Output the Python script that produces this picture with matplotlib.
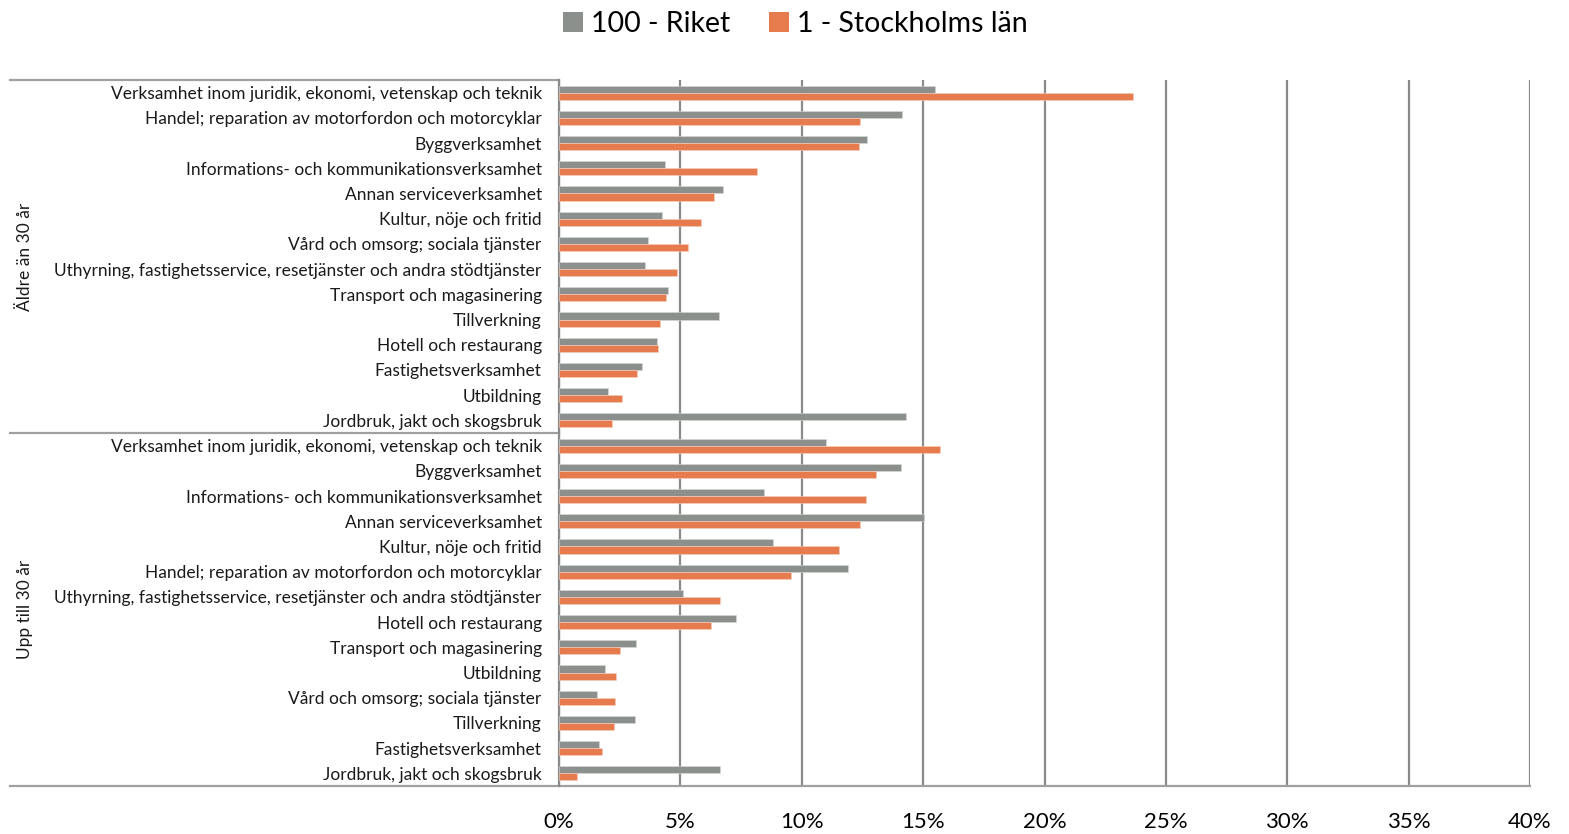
import matplotlib
matplotlib.use("Agg")
import matplotlib.pyplot as plt
from matplotlib.patches import Patch
import numpy as np

plt.rcParams["font.family"] = ["Lato", "DejaVu Sans"]

GROUPS = ["Äldre än 30 år", "Upp till 30 år"]

older_labels = [
    "Verksamhet inom juridik, ekonomi, vetenskap och teknik",
    "Handel; reparation av motorfordon och motorcyklar",
    "Byggverksamhet",
    "Informations- och kommunikationsverksamhet",
    "Annan serviceverksamhet",
    "Kultur, nöje och fritid",
    "Vård och omsorg; sociala tjänster",
    "Uthyrning, fastighetsservice, resetjänster och andra stödtjänster",
    "Transport och magasinering",
    "Tillverkning",
    "Hotell och restaurang",
    "Fastighetsverksamhet",
    "Utbildning",
    "Jordbruk, jakt och skogsbruk",
]
older_riket = [15.47, 14.11, 12.69, 4.36, 6.77, 4.23, 3.68, 3.56, 4.47, 6.61, 4.02, 3.40, 2.03, 14.29]
older_sthlm = [23.64, 12.41, 12.37, 8.15, 6.39, 5.87, 5.30, 4.86, 4.41, 4.17, 4.08, 3.21, 2.60, 2.20]

young_labels = [
    "Verksamhet inom juridik, ekonomi, vetenskap och teknik",
    "Byggverksamhet",
    "Informations- och kommunikationsverksamhet",
    "Annan serviceverksamhet",
    "Kultur, nöje och fritid",
    "Handel; reparation av motorfordon och motorcyklar",
    "Uthyrning, fastighetsservice, resetjänster och andra stödtjänster",
    "Hotell och restaurang",
    "Transport och magasinering",
    "Utbildning",
    "Vård och omsorg; sociala tjänster",
    "Tillverkning",
    "Fastighetsverksamhet",
    "Jordbruk, jakt och skogsbruk",
]
young_riket = [11.00, 14.07, 8.43, 15.05, 8.82, 11.89, 5.09, 7.31, 3.17, 1.89, 1.58, 3.14, 1.66, 6.64]
young_sthlm = [15.69, 13.07, 12.63, 12.41, 11.54, 9.57, 6.64, 6.28, 2.51, 2.33, 2.29, 2.28, 1.79, 0.73]

SERIES = ["100 - Riket", "1 - Stockholms län"]
X_TICKS = [0, 5, 10, 15, 20, 25, 30, 35, 40]

GRAY = "#8C908D"
ORANGE = "#E67C4E"
LINE = "#8A8A8A"

labels = older_labels + young_labels
riket = np.array(older_riket + young_riket)
sthlm = np.array(older_sthlm + young_sthlm)
n = len(labels)
y = np.arange(n)
h = 0.28

fig = plt.figure(figsize=(15.69, 8.34), dpi=100)
ax = fig.add_axes([559 / 1569, 1 - 786 / 834, (1530 - 559) / 1569, (786 - 80) / 834])

ax.barh(y - h / 2, riket, height=h, color=GRAY, edgecolor="#D8DAD8", linewidth=0.4, zorder=3)
ax.barh(y + h / 2, sthlm, height=h, color=ORANGE, edgecolor="#F6D0C0", linewidth=0.4, zorder=3)

ax.set_xlim(0, 40)
ax.set_ylim(n - 0.5, -0.5)
ax.set_xticks(X_TICKS)
ax.set_xticklabels([f"{t}%" for t in X_TICKS], fontsize=16)
ax.tick_params(axis="x", length=0, pad=19)
ax.set_yticks(y)
ax.set_yticklabels(labels, fontsize=12.5, color="#1a1a1a")
ax.tick_params(axis="y", length=0, pad=12.5)

ax.grid(axis="x", color=LINE, linewidth=1.6, zorder=0)
for side in ("top", "right", "bottom"):
    ax.spines[side].set_visible(False)
ax.spines["left"].set_color(LINE)
ax.spines["left"].set_linewidth(1.6)

# separators of the category area and the base line
x_left = (10 - 559) / 971
ax.plot([x_left, 0], [1, 1], transform=ax.transAxes, color="#A0A0A0", lw=1.6, clip_on=False)
ax.plot([x_left, 0], [0.5, 0.5], transform=ax.transAxes, color="#A0A0A0", lw=1.6, clip_on=False)
ax.plot([x_left, 1], [0, 0], transform=ax.transAxes, color="#A0A0A0", lw=1.6, clip_on=False)

for i, g in enumerate(GROUPS):
    ax.text((25 - 559) / 971, 0.75 - 0.5 * i, g, transform=ax.transAxes, rotation=90,
            ha="center", va="center", fontsize=12.5, color="#1a1a1a")

handles = [Patch(facecolor=GRAY), Patch(facecolor=ORANGE)]
fig.legend(handles, SERIES, loc="upper center", bbox_to_anchor=(0.507, 1.018), ncol=2,
           frameon=False, fontsize=20.5, handlelength=0.7, handleheight=0.7,
           handletextpad=0.3, columnspacing=1.35)

fig.savefig("out.png", dpi=100)
